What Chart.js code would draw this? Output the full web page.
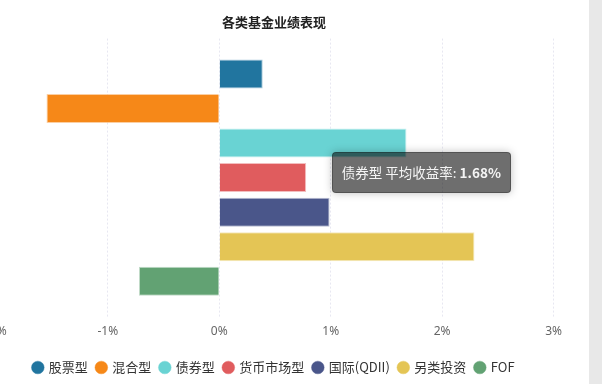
<!DOCTYPE html>
<html>
<head>
<meta charset="utf-8">
<script src="https://cdn.jsdelivr.net/npm/chart.js@4.4.1/dist/chart.umd.min.js"></script>
<style>
  html, body { margin: 0; padding: 0; background: #fff; overflow: hidden; }
  body { width: 602px; height: 384px; position: relative; }
  #wrap { position: absolute; left: -22px; top: 0; width: 592px; height: 384px; }
  #strip { position: absolute; left: 589px; top: 0; width: 13px; height: 384px; background: #e8e8e8; }
  #tip {
    position: absolute; pointer-events: none; display: none;
    background: rgba(0,0,0,0.57); color: #f4f4f4;
    border: 1px solid rgba(0,0,0,0.25); border-radius: 4px;
    box-shadow: 0 0 8px rgba(0,0,0,0.25);
    font-family: 'Noto Sans CJK SC', 'Noto Sans', sans-serif; font-size: 13.5px;
    padding: 10px 9px; white-space: nowrap; line-height: 19px;
  }
  #tip b { font-weight: bold; }
</style>
</head>
<body>
<div id="wrap"><canvas id="c"></canvas></div>
<div id="strip"></div>
<div id="tip"></div>
<script>
const categories = ['股票型', '混合型', '债券型', '货币市场型', '国际(QDII)', '另类投资', 'FOF'];
const avgReturns = [0.39, -1.55, 1.68, 0.78, 0.99, 2.29, -0.72];
const xTicks = [-2, -1, 0, 1, 2, 3];
const seriesColors = ['#21759f', '#f68818', '#69d3d3', '#e05c5e', '#4a568a', '#e4c555', '#62a273'];
const highlighted = 2;

const FONT = "'Noto Sans CJK SC', 'Noto Sans', sans-serif";
Chart.defaults.font.family = FONT;

const datasets = categories.map((name, i) => ({
  label: name,
  data: [avgReturns[i]],
  backgroundColor: seriesColors[i],
  borderColor: seriesColors[i] + '66',
  borderWidth: 1
}));

const tipEl = document.getElementById('tip');

Chart.Tooltip.positioners.fixedNear = function (items) {
  if (!items.length) return false;
  const el = items[0].element;
  const xs = this.chart.scales.x;
  return { x: xs.getPixelForValue(1.01), y: el.y + 29 };
};

const chart = new Chart(document.getElementById('c'), {
  type: 'bar',
  data: { labels: [''], datasets },
  options: {
    indexAxis: 'y',
    responsive: true,
    maintainAspectRatio: false,
    animation: false,
    categoryPercentage: 0.87,
    barPercentage: 0.84,
    layout: { padding: { top: 0, bottom: 0 } },
    scales: {
      x: {
        min: xTicks[0],
        max: xTicks[xTicks.length - 1],
        afterBuildTicks: (s) => { s.ticks = xTicks.map(v => ({ value: v })); },
        afterFit: (s) => { s.height += 5; },
        ticks: {
          color: '#666',
          font: { size: 12, family: "'Noto Sans', sans-serif" },
          padding: 8,
          callback: (v) => v + '%'
        },
        grid: { color: 'rgba(60,60,140,0.12)', drawTicks: false },
        border: { display: false, dash: [2, 2] }
      },
      y: { display: false }
    },
    plugins: {
      title: {
        display: true,
        text: '各类基金业绩表现',
        color: '#222',
        font: { size: 13, weight: 'bold' },
        padding: { top: 14, bottom: 9 }
      },
      legend: {
        position: 'bottom',
        labels: {
          usePointStyle: true,
          pointStyle: 'circle',
          boxWidth: 9,
          boxHeight: 9,
          padding: 9,
          color: '#333',
          font: { size: 13 }
        }
      },
      tooltip: {
        enabled: false,
        position: 'fixedNear',
        external: (ctx) => {
          const m = ctx.tooltip;
          if (!m || m.opacity === 0 || !m.dataPoints || !m.dataPoints.length) { tipEl.style.display = 'none'; return; }
          const dp = m.dataPoints[0];
          tipEl.innerHTML = dp.dataset.label + ' 平均收益率: <b>' + dp.raw.toFixed(2) + '%</b>';
          const wrap = document.getElementById('wrap');
          tipEl.style.display = 'block';
          tipEl.style.left = (wrap.offsetLeft + m.caretX) + 'px';
          tipEl.style.top = (wrap.offsetTop + m.caretY - tipEl.offsetHeight / 2) + 'px';
        }
      }
    }
  }
});

const meta = chart.getDatasetMeta(highlighted);
const el = meta.data[0];
chart.tooltip.setActiveElements([{ datasetIndex: highlighted, index: 0 }], { x: el.x, y: el.y });
chart.update();
</script>
</body>
</html>
